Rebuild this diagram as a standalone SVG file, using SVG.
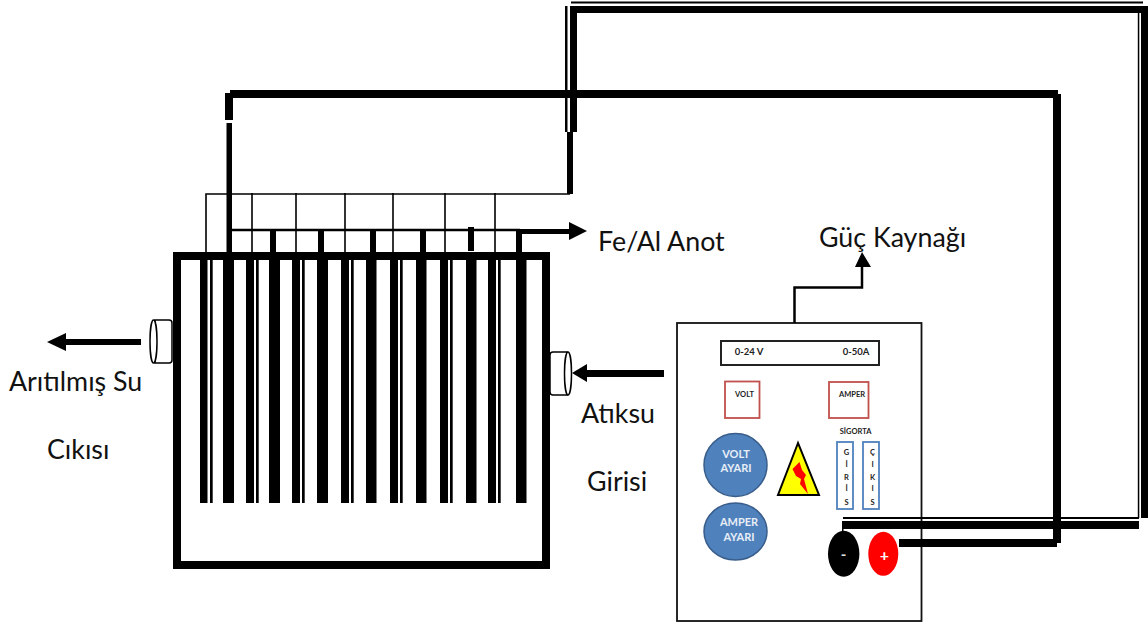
<svg xmlns="http://www.w3.org/2000/svg" width="1148" height="628" viewBox="0 0 1148 628">
<style>
.k{fill:#000}
.w{fill:none;stroke:#000}
.lab{font-family:Lato,"Open Sans","Liberation Sans",sans-serif;font-size:26.8px;fill:#111}
.sm{font-family:Lato,"Open Sans","Liberation Sans",sans-serif;font-size:7.5px;font-weight:700;fill:#222;text-anchor:middle}
.disp{font-size:9.5px}
.kn{font-family:Lato,"Open Sans","Liberation Sans",sans-serif;font-size:11px;font-weight:700;fill:#e8eef6;text-anchor:middle}
.red{fill:#fff;stroke:#c0504d;stroke-width:1.8}
.fuse{fill:#fff;stroke:#4f81bd;stroke-width:1.8}
.knob{fill:#4f81bd;stroke:#385d8a;stroke-width:1.5}
.conn{fill:#fff;stroke:#000;stroke-width:1.5}
</style>
<rect width="1148" height="628" fill="#fff"/>
<g id="tank">
<rect x="177" y="256" width="369" height="309" fill="#fff" stroke="#000" stroke-width="8"/>
</g>
<g id="electrodes" class="k">
<rect x="200" y="259" width="7.5" height="244"/><rect x="210" y="259" width="2.7" height="244"/>
<rect x="223" y="259" width="11" height="244"/>
<rect x="246" y="259" width="8" height="244"/><rect x="256" y="259" width="2.7" height="244"/>
<rect x="269" y="259" width="11" height="244"/>
<rect x="292" y="259" width="8" height="244"/><rect x="302" y="259" width="2.7" height="244"/>
<rect x="317" y="259" width="11" height="244"/>
<rect x="341" y="259" width="8" height="244"/><rect x="351" y="259" width="2.7" height="244"/>
<rect x="366" y="259" width="10.5" height="244"/>
<rect x="390" y="259" width="8" height="244"/><rect x="400" y="259" width="2.7" height="244"/>
<rect x="416" y="259" width="10.5" height="244"/>
<rect x="440" y="259" width="8" height="244"/><rect x="450" y="259" width="2.7" height="244"/>
<rect x="466" y="259" width="10.5" height="244"/>
<rect x="488" y="259" width="8" height="244"/><rect x="498" y="259" width="2.7" height="244"/>
<rect x="516" y="259" width="10.5" height="244"/>
</g>
<g id="outlet">
<path class="conn" d="M155 320H169C171 320 172 321 172 323V360C172 362 171 363 169 363H155Z"/>
<ellipse class="conn" cx="153.500" cy="341.500" rx="3.500" ry="21.500"/>
</g>
<g id="inlet">
<path class="conn" d="M567 352H553C551 352 550 353 550 355V392C550 394 551 395 553 395H567Z"/>
<ellipse class="conn" cx="568" cy="373.500" rx="3.500" ry="21.500"/>
</g>
<g id="labels">
<text class="lab" x="598" y="251">Fe/Al Anot</text>
<text class="lab" x="819" y="247">Güç Kaynağı</text>
<text class="lab" x="9" y="391">Arıtılmış Su</text>
<text class="lab" x="47" y="459">Cıkısı</text>
<text class="lab" x="581" y="423">Atıksu</text>
<text class="lab" x="587" y="491">Girisi</text>
</g>
<g id="panel">
<rect x="677" y="323" width="244.500" height="298" fill="#fff" stroke="#111" stroke-width="1.800"/>
<rect x="721" y="341" width="158" height="24" fill="#fff" stroke="#222" stroke-width="2"/>
<text class="sm disp" x="749" y="354.500">0-24 V</text>
<text class="sm disp" x="856" y="354.500">0-50A</text>
<rect class="red" x="725" y="381.500" width="34.500" height="36.500"/>
<rect class="red" x="829" y="382" width="39.500" height="36"/>
<text class="sm" x="744.500" y="397">VOLT</text>
<text class="sm" x="852" y="397">AMPER</text>
<text class="sm" x="855.500" y="434">SİGORTA</text>
<rect class="fuse" x="837" y="442" width="16" height="67"/>
<rect class="fuse" x="863" y="442" width="16" height="67"/>
<text class="sm" x="846.500" y="455">G</text><text class="sm" x="846.500" y="467">İ</text><text class="sm" x="846.500" y="479.500">R</text><text class="sm" x="846.500" y="491">İ</text><text class="sm" x="846.500" y="504.500">S</text>
<text class="sm" x="872.500" y="455">Ç</text><text class="sm" x="872.500" y="467">I</text><text class="sm" x="872.500" y="479.500">K</text><text class="sm" x="872.500" y="491">I</text><text class="sm" x="872.500" y="504.500">S</text>
<circle class="knob" cx="735.500" cy="465" r="31.500"/>
<text class="kn" x="736" y="458">VOLT</text>
<text class="kn" x="736" y="472">AYARI</text>
<ellipse class="knob" cx="735.500" cy="531.500" rx="31.500" ry="28.500"/>
<text class="kn" x="739" y="526">AMPER</text>
<text class="kn" x="739" y="541">AYARI</text>
<polygon points="798,443 778,495 819,495" fill="#ff0" stroke="#000" stroke-width="2"/>
<polygon points="792.500,469 799.500,462 802,470 806,475 804,479 808,494 800,484 801,479 796,476" fill="#f00"/>
<ellipse cx="843.700" cy="553.700" rx="15.700" ry="23" fill="#000"/>
<ellipse cx="883.300" cy="553.800" rx="15" ry="22" fill="#f00"/>
<text x="843.500" y="560" text-anchor="middle" fill="#ddd" font-family="Lato,'Liberation Sans',sans-serif" font-size="15" font-weight="700">-</text>
<text x="884.500" y="561" text-anchor="middle" fill="#fff" font-family="Lato,'Liberation Sans',sans-serif" font-size="16" font-weight="700">+</text>
</g>
<g id="connectors">
<path class="w" stroke-width="1.600" d="M206 252V194H570M252 193V252M296 193V252M345 193V252M393 193V252M445 193V252M495 193V252"/>
<path class="w" stroke-width="2.500" d="M232 230H520"/>
<g class="k">
<rect x="270" y="231" width="6" height="24"/><rect x="318" y="231" width="6" height="24"/><rect x="370" y="231" width="6" height="24"/><rect x="420" y="231" width="6" height="24"/><rect x="468" y="227" width="6" height="24"/><rect x="516" y="229" width="6" height="26"/>
<rect x="516" y="229" width="54" height="5"/>
<polygon points="569,222 587,231 569,240"/>
<rect x="225" y="93" width="8" height="27"/>
<rect x="226.500" y="123" width="5.500" height="132"/>
<rect x="230" y="90" width="828" height="8"/>
<rect x="1053" y="94" width="8" height="449"/>
<rect x="899" y="539" width="158" height="8"/>
<rect x="567" y="132" width="6" height="62"/>
<rect x="570" y="6" width="7" height="126"/>
<rect x="565" y="6" width="2.500" height="126"/>
<rect x="570" y="6" width="578" height="7"/>
<rect x="571" y="1.500" width="572" height="2"/>
<rect x="1141" y="6" width="7" height="512"/>
<rect x="1137.800" y="13" width="1.500" height="505"/>
<rect x="843" y="517" width="296" height="2"/>
<rect x="842" y="521" width="297" height="8"/>
<rect x="842" y="521" width="1.500" height="11"/>
<rect x="65" y="339" width="76" height="6"/>
<polygon points="47,342 66,333 66,351"/>
<rect x="587" y="370" width="77" height="7"/>
<polygon points="572,373 587,364 587,382"/>
<polygon points="855,267 862,252 871,267"/>
</g>
<path class="w" stroke-width="2.500" d="M794.500 323V287.500H862V266"/>
</g>
</svg>
